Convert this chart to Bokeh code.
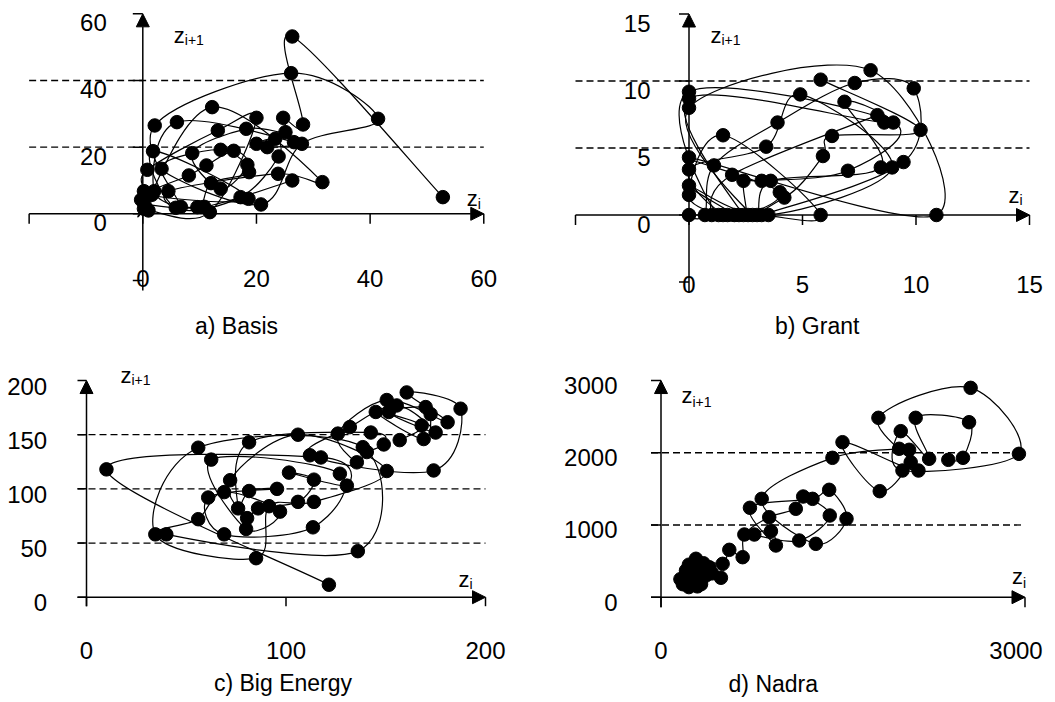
import numpy as np
from bokeh.plotting import figure
from bokeh.layouts import gridplot
from bokeh.models import Range1d, Arrow, NormalHead
from bokeh.core.properties import value
from bokeh.embed import file_html
from bokeh.resources import INLINE

FONT = "Liberation Sans"

# ---------------- data (phase portraits: z_i vs z_{i+1}) ----------------
basis_zi = [26.3, 10.8, 0.3, -0.3, 0.2, 0.8, 13.2, 20.0, 11.8, 1.0, 0.2, 12.2, 31.6, 23.8, 4.5, 6.7,
            2.1, 26.1, 41.4, 28.0, 20.8, 3.3, 13.7, 18.7, 12.0, 9.6, 2.0, 6.0, 26.6, 21.9, 20.0, 23.3,
            23.9, 17.2, 5.8, 1.8, 18.6, 1.6, 8.1, 11.2, 16.0, 18.4, 13.7, 8.7, 18.2, 25.1, 24.7, 28.2,
            26.3, 52.8]
basis_zi1 = [10, 2.1, 2.9, 4.2, 6.8, 13.2, 25, 28.8, 0.5, 1.0, 1.5, 32, 9.5, 12, 6.8, 2.1,
             26.5, 42.2, 28.5, 21, 2.8, 13.5, 19.2, 12.5, 9.2, 2.0, 6.8, 27.5, 21.5, 20, 21, 22.5,
             17.2, 5, 1.8, 18.8, 4.5, 5.7, 11.5, 14.5, 18.9, 14.7, 7.5, 18.2, 25.5, 24.5, 28.8, 26.8,
             53.2, 5]

grant_zi = [5.8, 10.2, 6.3, 5.9, 4.2, 1.3, 0, 9.0, 7.0, 3.2, 2.4, 2.4, 0, 8.6, 6.85, 8.45, 3.6, 2.8,
            0, 8.0, 10.9, 0, 4.0, 1.7, 0, 3.4, 4.9, 8.95, 3.5, 0, 2.0, 1.5, 0, 1.5, 5.8, 3.0, 0, 0.7,
            1.1, 3.9, 7.3, 9.9, 9.45, 3.2, 2.6, 2.2, 1.0, 1.9, 8.3]
grant_zi1 = [10.1, 6.35, 5.9, 4.4, 1.3, 0, 9.2, 6.9, 3.3, 2.55, 2.55, 0, 8.7, 6.9, 8.45, 3.55, 2.55, 0,
             8.0, 10.8, 0, 4.3, 1.7, 0, 3.4, 5.1, 9.0, 3.55, 0, 2.2, 0, 0, 1.5, 5.95, 0, 0, 0, 0,
             3.7, 6.9, 9.85, 9.45, 3.95, 0, 0, 0, 0, 3.0, 7.45]

energy_zi = [121.5, 10, 117.5, 130.5, 101.5, 114, 106, 86, 80.5, 72, 106, 150.5, 114, 91.5, 85, 34.5,
             56, 138.5, 136, 40, 56, 69, 97, 80, 62.5, 127, 113.5, 69, 61, 95.5, 81.5, 76, 81.5, 142.5,
             149, 140.5, 135.5, 126, 150.5, 181, 160.5, 187.5, 174, 112, 132, 155.5, 175, 151.5, 170,
             172.5, 169, 145, 168, 157]
energy_zi1 = [11.5, 118, 129, 103, 115, 108.5, 88, 82, 73, 108, 150, 116.5, 88, 84, 36, 58,
              138, 138.5, 42.5, 58, 72, 97, 79, 63, 127, 114, 64.5, 58, 92, 100, 98, 82, 143, 152,
              141, 134, 124.5, 151, 182, 161.5, 189, 174, 117, 131, 157, 177, 152, 171, 175.5,
              169, 146, 171, 158.5, 145]

nadra_zi = [193, 230, 160, 250, 275, 206, 370, 300, 180, 316, 330, 420, 260, 398, 350, 494, 230, 288,
            508, 563, 673, 687, 892, 1111, 1172, 1391, 1139, 769, 906, 947, 733, 1249, 1386, 1529,
            1276, 830, 1413, 1963, 2045, 2058, 1803, 1496, 2122, 1792, 2552, 2950, 1990, 1976, 2210,
            2099, 2539, 2489, 2368]
nadra_zi1 = [231, 140, 250, 280, 208, 370, 300, 150, 180, 323, 180, 330, 400, 415, 470, 269, 450, 532,
             462, 656, 554, 868, 1108, 1224, 1394, 1131, 785, 868, 914, 716, 1238, 1362, 1487, 1086,
             739, 1362, 1930, 2055, 2041, 1869, 1468, 2146, 1754, 2484, 2899, 1985, 1754, 2299, 1916,
             2484, 2423, 1930, 1902]

titles = ["a) Basis", "b) Grant", "c) Big Energy", "d) Nadra"]

# axis extents and ticks (data units)
basis_axis = dict(xmin=-20, xmax=60, ymin=-20, ymax=60, xticks=[-20, 0, 20, 40, 60], yticks=[-20, 0, 20, 40, 60],
                  xlabels=[0, 20, 40, 60], ylabels=[0, 20, 40, 60], levels=[20, 40])
grant_axis = dict(xmin=-5, xmax=15, ymin=-5, ymax=15, xticks=[-5, 0, 5, 10, 15], yticks=[-5, 0, 5, 10, 15],
                  xlabels=[0, 5, 10, 15], ylabels=[0, 5, 10, 15], levels=[5, 10])
energy_axis = dict(xmin=0, xmax=200, ymin=0, ymax=200, xticks=[0, 100, 200], yticks=[0, 50, 100, 150, 200],
                   xlabels=[0, 100, 200], ylabels=[0, 50, 100, 150, 200], levels=[50, 100, 150])
nadra_axis = dict(xmin=0, xmax=3000, ymin=0, ymax=3000, xticks=[0, 3000], yticks=[0, 1000, 2000, 3000],
                  xlabels=[0, 3000], ylabels=[0, 1000, 2000, 3000], levels=[1000, 2000])

# ---------------- layout (page pixels) ----------------
# zy / zx: (z dx, z dy, subscript dx, subscript dy) relative to the axis tip, text centred vertically
L = {
    "a": dict(left=0, top=0, w=528, h=350, ox=142.3, oy=213.3, sx=5.683, sy=3.333,
              ext=0, tick=10, xl_dy=65, yl_dx=-36, yl_dy=9,
              zy=(31, 22, 42, 25.7), zx=(-17, -15.5, -6, -10), title=(236, 325)),
    "b": dict(left=528, top=0, w=522, h=350, ox=688.5, oy=214.5, sx=22.7, sy=13.4,
              ext=0, tick=10, xl_dy=69, yl_dx=-38.5, yl_dy=9,
              zy=(21.5, 21.3, 32.5, 26), zx=(-21, -20, -10, -15.5), title=(816.7, 325)),
    "c": dict(left=0, top=350, w=528, h=350, ox=86.0, oy=596.7, sx=1.995, sy=1.0833,
              ext=9, tick=9, xl_dy=53, yl_dx=-39.3, yl_dy=5.5,
              zy=(34, -5.5, 45, -1), zx=(-27, -18, -16, -13.7), title=(282.5, 682)),
    "d": dict(left=528, top=350, w=522, h=350, ox=660.5, oy=596.7, sx=0.12133, sy=0.07222,
              ext=10, tick=10, xl_dy=53, yl_dx=-43.5, yl_dy=5,
              zy=(20.5, 14.5, 31.5, 21), zx=(-13, -20.7, -2, -14.7), title=(772.8, 683)),
}


def bezier_parts(xs, ys, t=1.0 / 6.0):
    x = np.asarray(xs, float)
    y = np.asarray(ys, float)
    n = len(x)
    xp = np.concatenate([[x[0]], x, [x[-1]]])
    yp = np.concatenate([[y[0]], y, [y[-1]]])
    x0, y0, x1, y1 = x[:-1], y[:-1], x[1:], y[1:]
    cx0 = x0 + (x1 - xp[0:n - 1]) * t
    cy0 = y0 + (y1 - yp[0:n - 1]) * t
    cx1 = x1 - (xp[3:n + 2] - x0) * t
    cy1 = y1 - (yp[3:n + 2] - y0) * t
    return dict(x0=x0, y0=y0, x1=x1, y1=y1, cx0=cx0, cy0=cy0, cx1=cx1, cy1=cy1)


def txt(p, xs, ys, texts, size, align="center", dx=0, dy=0):
    p.text(x=xs, y=ys, text=texts, x_offset=dx, y_offset=dy, text_font=value(FONT),
           text_font_size=size, text_align=align, text_baseline="middle", text_color="black")


def panel(key, zi, zi1, ax, title):
    c = L[key]
    sx, sy = c["sx"], c["sy"]
    xr = Range1d((c["left"] - c["ox"]) / sx, (c["left"] + c["w"] - c["ox"]) / sx)
    yr = Range1d((c["oy"] - c["top"] - c["h"]) / sy, (c["oy"] - c["top"]) / sy)
    p = figure(width=c["w"], height=c["h"], x_range=xr, y_range=yr, output_backend="svg",
               toolbar_location=None, x_axis_location=None, y_axis_location=None,
               min_border=0, outline_line_color=None, background_fill_color="white",
               border_fill_color="white")
    for g in p.grid:
        g.visible = False

    xa = ax["xmin"] - c["ext"] / sx
    ya_bottom = ax["ymin"] - (c["ext"] if c["ext"] else 10) / sy
    # dashed reference levels
    lv = ax["levels"]
    p.segment(x0=[xa] * len(lv), y0=lv, x1=[ax["xmax"]] * len(lv), y1=lv,
              line_color="black", line_width=1.3, line_dash="7 4")
    # smooth trajectory
    b = bezier_parts(zi, zi1)
    p.bezier(line_color="black", line_width=1.2, **b)
    # ticks
    tx = ax["xticks"]
    p.segment(x0=tx, y0=[0] * len(tx), x1=tx, y1=[-c["tick"] / sy] * len(tx), line_color="black", line_width=1.5)
    ty = ax["yticks"]
    p.segment(x0=[0] * len(ty), y0=ty, x1=[-c["tick"] / sx] * len(ty), y1=ty, line_color="black", line_width=1.5)
    # axes with arrows
    p.add_layout(Arrow(x_start=xa, y_start=0, x_end=ax["xmax"], y_end=0, line_color="black", line_width=1.5,
                       end=NormalHead(size=13, fill_color="black", line_color="black", line_width=1)))
    p.add_layout(Arrow(x_start=0, y_start=ya_bottom, x_end=0, y_end=ax["ymax"], line_color="black", line_width=1.5,
                       end=NormalHead(size=13, fill_color="black", line_color="black", line_width=1)))
    # points
    p.scatter(zi, zi1, size=13.5, fill_color="black", line_color="black")
    # tick labels
    xl = ax["xlabels"]
    xl_dx = [0] * len(xl)
    if key == "d":
        xl_dx[-1] = -9
    txt(p, xl, [0] * len(xl), [str(v) for v in xl], "24px", dx=xl_dx, dy=c["xl_dy"])
    yl = ax["ylabels"]
    txt(p, [0] * len(yl), yl, [str(v) for v in yl], "24px", align="right", dx=c["yl_dx"], dy=c["yl_dy"])
    # axis names
    zx0, zy0, sx0, sy0 = c["zy"]
    txt(p, [0], [ax["ymax"]], ["z"], "22px", align="left", dx=zx0, dy=zy0)
    txt(p, [0], [ax["ymax"]], ["i+1"], "14px", align="left", dx=sx0, dy=sy0)
    zx0, zy0, sx0, sy0 = c["zx"]
    txt(p, [ax["xmax"]], [0], ["z"], "22px", align="left", dx=zx0, dy=zy0)
    txt(p, [ax["xmax"]], [0], ["i"], "14px", align="left", dx=sx0, dy=sy0)
    # caption
    tpx, tpy = c["title"]
    txt(p, [(tpx - c["ox"]) / sx], [(c["oy"] - tpy) / sy], [title], "23px")
    return p


pa = panel("a", basis_zi, basis_zi1, basis_axis, titles[0])
pb = panel("b", grant_zi, grant_zi1, grant_axis, titles[1])
pc = panel("c", energy_zi, energy_zi1, energy_axis, titles[2])
pd = panel("d", nadra_zi, nadra_zi1, nadra_axis, titles[3])

grid = gridplot([[pa, pb], [pc, pd]], toolbar_location=None)
open("out.html", "w").write(file_html(grid, INLINE))
